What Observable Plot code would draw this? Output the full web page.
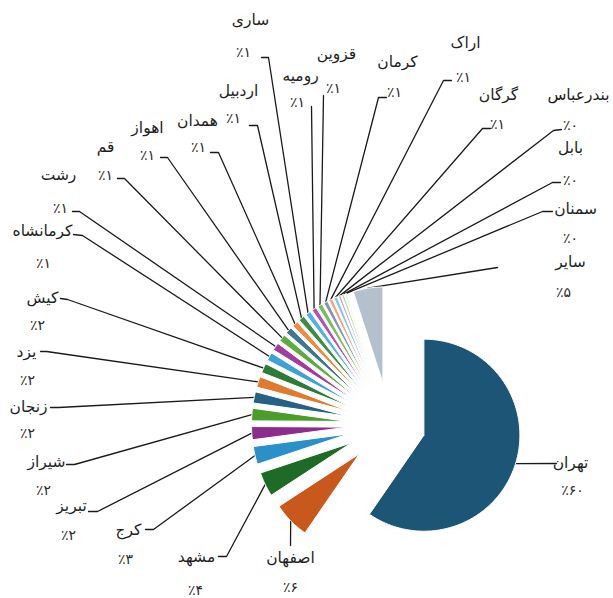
<!DOCTYPE html>
<html><head><meta charset="utf-8">
<script src="https://cdn.jsdelivr.net/npm/d3@7"></script>
<script src="https://cdn.jsdelivr.net/npm/@observablehq/plot@0.6"></script>
<style>body{margin:0;background:#fff}</style>
</head><body><div id="chart"></div>
<script>
// ---- data (clockwise from 12 o'clock) ----
const cities = ["تهران","اصفهان","مشهد","کرج","تبریز","شیراز","زنجان","یزد","کیش","کرمانشاه","رشت","قم","اهواز","همدان","اردبیل","ساری","رومیه","قزوین","کرمان","اراک","گرگان","بندرعباس","بابل","سمنان","سایر"];
const values = [59.6,6.2,4.1,3.0,2.2,2.1,1.9,1.8,1.6,1.4,1.3,1.2,1.1,1.0,1.0,0.9,0.8,0.8,0.7,0.6,0.6,0.4,0.4,0.3,5.0];

// ---- style ----
const palette = ["#1d5577","#c9581d","#1d6b26","#2b8fca","#8c2c8c","#4c9c2c","#266282","#e07a2e","#2c7b36","#3ba2da","#a23ca2","#5eab3e","#3c769a","#f08c42","#3c8e46","#52b2e2","#ba4eba","#76be56","#8098b2","#f4a67c","#8ec6e4","#c9a4d4","#bcdca4","#f2efc4","#b3c1ce"];

// ---- layout (pixel units): pie and label placement ----
const CX = 389, CY = 424, R = 96;
const explodeFirst = 36, explodeRest = 42;
const labelLayout = {
  "تهران":    {n:[570,463], p:[572,490], e:[556,463]},
  "اصفهان":   {n:[290,558], p:[290,587], e:[290,545]},
  "مشهد":     {n:[196,557], p:[195,590], e:[226,556], k:[218,556]},
  "کرج":      {n:[128,530], p:[125,559], e:[153,529], k:[145,529]},
  "تبریز":    {n:[71,506],  p:[68,535],  e:[97,511],  k:[88,511]},
  "شیراز":    {n:[46,462],  p:[43,490],  e:[74,464],  k:[66,464]},
  "زنجان":    {n:[28,407],  p:[27,433],  e:[58,407],  k:[50,407]},
  "یزد":      {n:[26,352],  p:[27,380],  e:[46,351],  k:[40,351]},
  "کیش":      {n:[42,298],  p:[37,325],  e:[67,299],  k:[60,298]},
  "کرمانشاه": {n:[42,231],  p:[43,263],  e:[82,235],  k:[73,234]},
  "رشت":      {n:[58,175],  p:[60,208],  e:[79,211],  k:[72,211]},
  "قم":       {n:[105,147], p:[105,175], e:[124,178], k:[117,178]},
  "اهواز":    {n:[147,128], p:[147,155], e:[167,157], k:[160,157]},
  "همدان":    {n:[197,121], p:[198,147], e:[218,152], k:[210,152]},
  "اردبیل":   {n:[238,91],  p:[233,118], e:[257,125], k:[249,125]},
  "ساری":     {n:[250,20],  p:[243,52],  e:[268,57],  k:[261,57]},
  "رومیه":    {n:[300,76],  p:[297,102], e:[311,106]},
  "قزوین":    {n:[336,54],  p:[333,88],  e:[323,95]},
  "کرمان":    {n:[397,62],  p:[394,92],  e:[378,97],  k:[386,97]},
  "اراک":     {n:[465,43],  p:[463,77],  e:[443,80],  k:[451,80]},
  "گرگان":    {n:[498,95],  p:[497,124], e:[482,128], k:[490,128]},
  "بندرعباس": {n:[578,95],  p:[570,125], e:[553,130], k:[561,129]},
  "بابل":     {n:[570,148], p:[570,180], e:[552,182], k:[560,182]},
  "سمنان":    {n:[575,209], p:[570,238], e:[542,211], k:[552,211]},
  "سایر":     {n:[570,262], p:[563,292], e:[497,267]}
};

const faDigits = s => String(s).replace(/\d/g, d => "۰۱۲۳۴۵۶۷۸۹"[d]);
const total = d3.sum(values);

// ---- pie geometry from values ----
let acc = 0;
const slices = cities.map((c, i) => {
  const a0 = acc / total * 2 * Math.PI; acc += values[i];
  const a1 = acc / total * 2 * Math.PI;
  const mid = (a0 + a1) / 2;
  const d = i === 0 ? explodeFirst : explodeRest;
  const ax = CX + d * Math.sin(mid), ay = CY - d * Math.cos(mid);
  return {city: c, i, a0, a1, mid, ax, ay, color: palette[i],
          ox: ax + R * Math.sin(mid), oy: ay - R * Math.cos(mid),
          pct: "٪" + faDigits(Math.round(values[i]))};
});

const poly = [];
for (const s of slices) {
  poly.push({city: s.city, color: s.color, x: s.ax, y: s.ay});
  const n = Math.max(2, Math.ceil((s.a1 - s.a0) / (Math.PI / 180)));
  for (let j = 0; j <= n; j++) {
    const a = s.a0 + (s.a1 - s.a0) * j / n;
    poly.push({city: s.city, color: s.color, x: s.ax + R * Math.sin(a), y: s.ay - R * Math.cos(a)});
  }
  poly.push({city: s.city, color: s.color, x: s.ax, y: s.ay});
}

const leaders = [];
const names = [], pcts = [];
for (const s of slices) {
  const L = labelLayout[s.city];
  leaders.push({city: s.city, x: s.ox, y: s.oy});
  leaders.push({city: s.city, x: L.e[0], y: L.e[1]});
  if (L.k) leaders.push({city: s.city, x: L.k[0], y: L.k[1]});
  names.push({text: s.city, x: L.n[0], y: L.n[1]});
  pcts.push({text: s.pct, x: L.p[0], y: L.p[1]});
}

const chart = Plot.plot({
  width: 613, height: 598, margin: 0,
  x: {domain: [0, 613], range: [0, 613], axis: null},
  y: {domain: [0, 598], range: [0, 598], axis: null},
  style: {fontFamily: "DejaVu Sans", background: "#fff"},
  marks: [
    Plot.line(leaders, {x: "x", y: "y", z: "city", stroke: "#1a1a1a", strokeWidth: 1.3, curve: "linear"}),
    Plot.line(poly, {x: "x", y: "y", z: "city", fill: "color", stroke: "white", strokeWidth: 1, curve: "linear"}),
    Plot.text(names, {x: "x", y: "y", text: "text", fontSize: 15.5, fill: "#1e1e1e", fontFamily: "DejaVu Sans"}),
    Plot.text(pcts, {x: "x", y: "y", text: "text", fontSize: 14, fill: "#2a2a2a", fontFamily: "DejaVu Sans"})
  ]
});
document.getElementById("chart").appendChild(chart);
</script></body></html>
